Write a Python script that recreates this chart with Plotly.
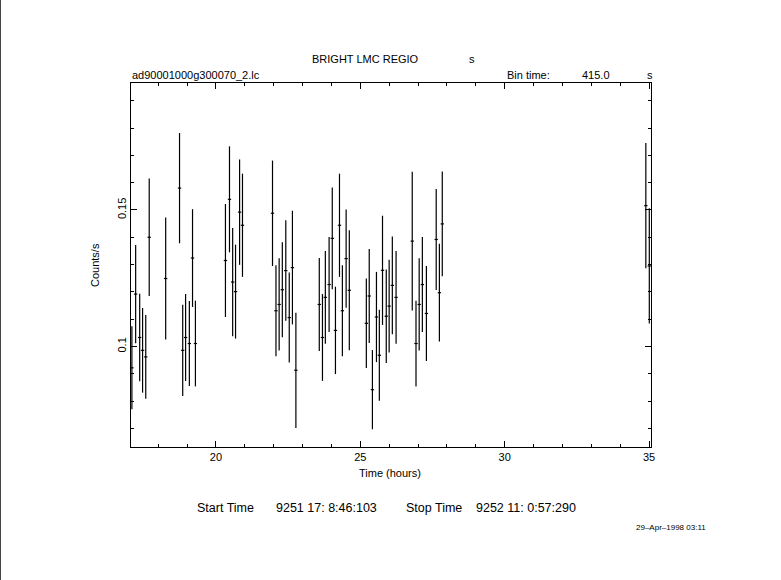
import plotly.graph_objects as go

# Light-curve data (time in hours, rate in counts/s, 1-sigma error)
time_hr = [17.09, 17.22, 17.36, 17.46, 17.57, 17.69,
           18.26, 18.74, 18.85, 18.95, 19.08, 19.19, 19.29,
           20.33, 20.47, 20.58, 20.68, 20.82, 20.92,
           21.96, 22.08, 22.19, 22.30, 22.42, 22.54, 22.65, 22.77,
           23.58, 23.69, 23.79, 23.92, 24.03, 24.14, 24.28, 24.38, 24.51, 24.62,
           25.21, 25.31, 25.42, 25.56, 25.66, 25.77, 25.90, 26.00, 26.11, 26.24,
           26.80, 26.93, 27.04, 27.15, 27.29, 27.63, 27.74, 27.84,
           34.89, 35.01]
rate = [0.0922, 0.1192, 0.1033, 0.0986, 0.0962, 0.1400,
        0.1249, 0.1580, 0.0986, 0.1033, 0.1011, 0.1324, 0.1011,
        0.1315, 0.1539, 0.1236, 0.1201, 0.1492, 0.1444,
        0.1488, 0.1131, 0.1154, 0.1208, 0.1278, 0.1106, 0.1289, 0.0913,
        0.1154, 0.1033, 0.1180, 0.1227, 0.1396, 0.1059, 0.1444, 0.1131, 0.1322, 0.1206,
        0.1085, 0.1185, 0.0842, 0.1108, 0.0968, 0.1279, 0.1111, 0.1148, 0.1224, 0.1180,
        0.1386, 0.1011, 0.1154, 0.1227, 0.1121, 0.1392, 0.1197, 0.1449,
        0.1516, 0.1295]
rate_err = [0.0152, 0.0180, 0.0160, 0.0155, 0.0153, 0.0215,
            0.0223, 0.0202, 0.0167, 0.0159, 0.0156, 0.0179, 0.0157,
            0.0207, 0.0194, 0.0198, 0.0172, 0.0193, 0.0189,
            0.0193, 0.0167, 0.0169, 0.0174, 0.0184, 0.0165, 0.0208, 0.0211,
            0.0170, 0.0159, 0.0170, 0.0174, 0.0186, 0.0160, 0.0189, 0.0167, 0.0180, 0.0220,
            0.0164, 0.0172, 0.0145, 0.0165, 0.0167, 0.0200, 0.0171, 0.0170, 0.0179, 0.0170,
            0.0254, 0.0157, 0.0169, 0.0174, 0.0174, 0.0185, 0.0179, 0.0192,
            0.0229, 0.0211]
bin_time_s = 415.0
half_bin_hr = bin_time_s / 2 / 3600.0

x_ticks = [20, 25, 30, 35]
y_ticks = [0.1, 0.15]
y_tick_text = ["0.1", "0.15"]

W, H = 781, 580
L, R, T, B = 131, 130, 83, 133
x_range = [17.059, 35.069]
y_range = [0.0632, 0.1965]

FONT = "Liberation Sans"

fig = go.Figure()
fig.add_trace(go.Scatter(
    x=time_hr, y=rate, mode="markers",
    marker=dict(size=0, color="black", opacity=0),
    error_y=dict(type="data", array=rate_err, visible=True, color="black", thickness=1.2, width=0),
    error_x=dict(type="constant", value=half_bin_hr, visible=True, color="black", thickness=1.2, width=0),
    showlegend=False, hoverinfo="x+y",
))

pw = W - L - R
ph = H - T - B


def px(xp):
    return (xp - L) / pw


def py(yp):
    return (H - B - yp) / ph


annotations = []


def text(s, x, y, anchor="left", size=11, angle=0):
    annotations.append(dict(text=s, x=px(x), y=py(y), xref="paper", yref="paper",
                            xanchor=anchor, yanchor="middle", showarrow=False,
                            textangle=angle,
                            font=dict(family=FONT, size=size, color="black")))


text("BRIGHT LMC REGIO", 310, 59)
text("s", 467, 59)
text("ad90001000g300070_2.lc", 130, 75)
text("Bin time:", 505, 75)
text("415.0", 580, 75)
text("s", 645, 75)
text("Time (hours)", 390, 473, anchor="center")
text("Counts/s", 95, 265, anchor="center", angle=-90)
text("Start Time", 195, 508, size=12.5)
text("9251 17: 8:46:103", 274, 508, size=12.5)
text("Stop Time", 404, 508, size=12.5)
text("9252 11: 0:57:290", 474, 508, size=12.5)
text("29\u2013Apr\u20131998 03:11", 708, 527, anchor="right", size=8)

fig.update_layout(
    width=W, height=H,
    margin=dict(l=L, r=R, t=T, b=B, pad=0),
    paper_bgcolor="white", plot_bgcolor="white",
    font=dict(family=FONT, size=11, color="black"),
    annotations=annotations,
    shapes=[dict(type="line", xref="paper", yref="paper",
                 x0=px(0.5), x1=px(0.5), y0=py(0), y1=py(H),
                 line=dict(color="#444444", width=1))],
    xaxis=dict(range=x_range, tickmode="array", tickvals=x_ticks,
               ticks="inside", ticklen=6, tickwidth=1, tickcolor="black",
               mirror="allticks", showline=True, linecolor="black", linewidth=1,
               showgrid=False, zeroline=False,
               minor=dict(dtick=1, ticks="inside", ticklen=3, tickcolor="black", showgrid=False),
               tickfont=dict(family=FONT, size=11)),
    yaxis=dict(range=y_range, tickmode="array", tickvals=y_ticks, ticktext=y_tick_text,
               ticks="inside", ticklen=6, tickwidth=1, tickcolor="black",
               mirror="allticks", showline=True, linecolor="black", linewidth=1,
               showgrid=False, zeroline=False, tickangle=-90,
               minor=dict(dtick=0.01, tick0=0, ticks="inside", ticklen=3, tickcolor="black", showgrid=False),
               tickfont=dict(family=FONT, size=11)),
)

fig.write_html("out.html",
               config={"displayModeBar": False},
               post_script="document.body.style.margin='0';document.body.style.overflow='hidden';")
